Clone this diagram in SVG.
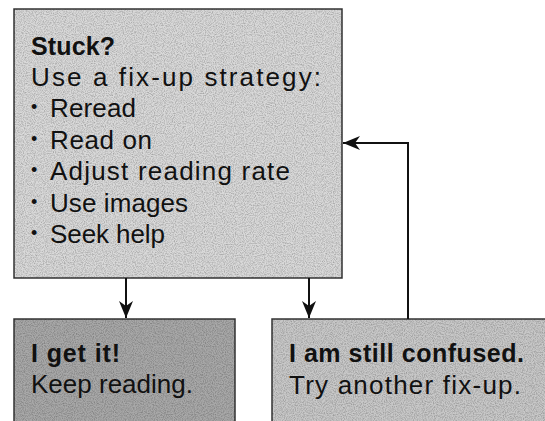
<svg xmlns="http://www.w3.org/2000/svg" width="545" height="421" viewBox="0 0 545 421">
  <defs>
    <filter id="grain" x="0" y="0" width="100%" height="100%">
      <feTurbulence type="fractalNoise" baseFrequency="0.9" numOctaves="2" seed="3" result="n"/>
      <feColorMatrix in="n" type="matrix" values="0 0 0 0 0  0 0 0 0 0  0 0 0 0 0  0 0 0 -1.2 0.75" result="a"/>
      <feComposite in="a" in2="SourceGraphic" operator="in"/>
    </filter>
    <marker id="arrow" viewBox="-18 -8 19 16" refX="0" refY="0" markerWidth="19" markerHeight="16" markerUnits="userSpaceOnUse" orient="auto">
      <path d="M0,0 L-17,-7 L-12,0 L-17,7 Z" fill="#111"/>
    </marker>
    <style>
      .box { stroke: #333; stroke-width: 1.5; }
      .t { font-family: "Liberation Sans", Arial, sans-serif; font-size: 26px; fill: #111; }
      .b { font-weight: bold; font-size: 25px; }
      .dot { font-family: "Liberation Sans", Arial, sans-serif; font-size: 18px; fill: #111; }
      .conn { fill: none; stroke: #111; stroke-width: 2; }
    </style>
  </defs>
  <rect width="545" height="421" fill="#ffffff"/>

  <g id="node-stuck">
    <rect class="box" x="14" y="9" width="328" height="269" fill="#d9d9d9"/>
    <rect x="14" y="9" width="328" height="269" fill="#d9d9d9" filter="url(#grain)" opacity="0.4"/>
    <text class="t b" x="31" y="55" textLength="84" lengthAdjust="spacing">Stuck?</text>
    <text class="t" x="31" y="86" textLength="290" lengthAdjust="spacing">Use a fix-up strategy:</text>
    <text class="dot" x="31" y="113">•</text><text class="t" x="50" y="117" textLength="86" lengthAdjust="spacing">Reread</text>
    <text class="dot" x="31" y="145">•</text><text class="t" x="50" y="149" textLength="102" lengthAdjust="spacing">Read on</text>
    <text class="dot" x="31" y="176">•</text><text class="t" x="50" y="180" textLength="240" lengthAdjust="spacing">Adjust reading rate</text>
    <text class="dot" x="31" y="208">•</text><text class="t" x="50" y="212" textLength="138" lengthAdjust="spacing">Use images</text>
    <text class="dot" x="31" y="239">•</text><text class="t" x="50" y="243" textLength="115" lengthAdjust="spacing">Seek help</text>
  </g>

  <g id="node-get-it">
    <rect class="box" x="14" y="319" width="221" height="110" fill="#a8a8a8"/>
    <rect x="14" y="319" width="221" height="102" fill="#a8a8a8" filter="url(#grain)" opacity="0.4"/>
    <text class="t b" x="31" y="362" textLength="89" lengthAdjust="spacing">I get it!</text>
    <text class="t" x="31" y="393" textLength="162" lengthAdjust="spacing">Keep reading.</text>
  </g>

  <g id="node-confused">
    <rect class="box" x="272" y="319" width="290" height="110" fill="#c8c8c8"/>
    <rect x="272" y="319" width="273" height="102" fill="#c8c8c8" filter="url(#grain)" opacity="0.4"/>
    <text class="t b" x="289" y="362" textLength="235" lengthAdjust="spacing">I am still confused.</text>
    <text class="t" x="289" y="394" textLength="232" lengthAdjust="spacing">Try another fix-up.</text>
  </g>

  <g id="connectors">
    <line class="conn" x1="126" y1="278" x2="126" y2="318" marker-end="url(#arrow)"/>
    <line class="conn" x1="309" y1="278" x2="309" y2="318" marker-end="url(#arrow)"/>
    <polyline class="conn" points="408,319 408,143 343,143" marker-end="url(#arrow)"/>
  </g>
</svg>
